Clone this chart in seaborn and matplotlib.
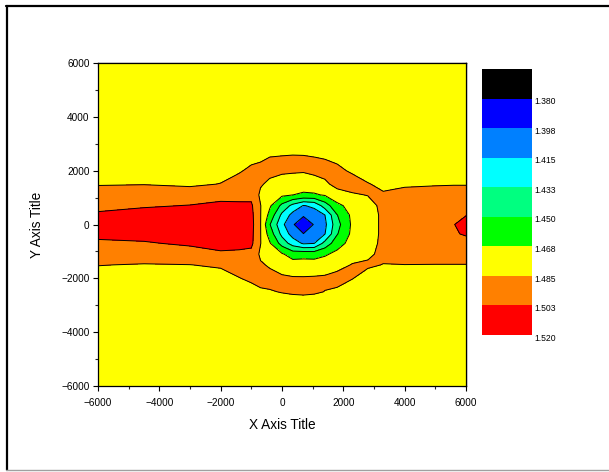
import numpy as np
import matplotlib
matplotlib.use("Agg")
import matplotlib.pyplot as plt
import seaborn as sns
from matplotlib.lines import Line2D
from matplotlib.ticker import MultipleLocator
from matplotlib.transforms import ScaledTranslation

# Grid node positions (rectilinear, denser around the central well)
x_nodes = [-6000, -4500, -3000, -2000, -1400, -1000, -700, -400, 0, 350, 700,
           1050, 1400, 1800, 2300, 2800, 3300, 4000, 5000, 5600, 6000]
y_nodes = [-6000, -3000, -2500, -2000, -1500, -1100, -700, -350, 0, 350, 700,
           1100, 1500, 2000, 2500, 3000, 6000]

# Measured values, one column per x node (bottom to top along y_nodes)
value_columns = [
    [1.476, 1.476, 1.476, 1.478, 1.4855, 1.493, 1.500, 1.506, 1.510, 1.5045, 1.499, 1.492, 1.484, 1.478, 1.476, 1.476, 1.476],
    [1.476, 1.476, 1.476, 1.478, 1.484, 1.494, 1.501, 1.508, 1.511, 1.508, 1.501, 1.494, 1.4845, 1.478, 1.476, 1.476, 1.476],
    [1.476, 1.476, 1.476, 1.478, 1.4848, 1.495, 1.505, 1.510, 1.512, 1.510, 1.503, 1.495, 1.482, 1.477, 1.476, 1.476, 1.476],
    [1.476, 1.476, 1.477, 1.479, 1.487, 1.5005, 1.507, 1.511, 1.513, 1.512, 1.5045, 1.4995, 1.4855, 1.479, 1.477, 1.476, 1.476],
    [1.476, 1.476, 1.477, 1.4845, 1.491, 1.4995, 1.507, 1.510, 1.511, 1.510, 1.5045, 1.499, 1.491, 1.4835, 1.477, 1.476, 1.476],
    [1.476, 1.476, 1.480, 1.4875, 1.490, 1.498, 1.506, 1.507, 1.508, 1.507, 1.505, 1.498, 1.490, 1.488, 1.481, 1.476, 1.476],
    [1.476, 1.476, 1.482, 1.492, 1.487, 1.482, 1.4855, 1.4855, 1.4855, 1.4855, 1.4855, 1.482, 1.4865, 1.492, 1.481, 1.476, 1.476],
    [1.476, 1.476, 1.4838, 1.4905, 1.4831, 1.4761, 1.4692, 1.4598, 1.451, 1.4623, 1.4701, 1.476, 1.482, 1.489, 1.4851, 1.476, 1.476],
    [1.476, 1.476, 1.4858, 1.4877, 1.4778, 1.4693, 1.443, 1.4275, 1.419, 1.4283, 1.4456, 1.4706, 1.4782, 1.4875, 1.486, 1.476, 1.476],
    [1.476, 1.476, 1.4872, 1.4865, 1.4752, 1.4600, 1.4245, 1.4079, 1.400, 1.4092, 1.4271, 1.4676, 1.4765, 1.487, 1.4867, 1.476, 1.476],
    [1.476, 1.476, 1.4879, 1.4865, 1.4743, 1.462, 1.4127, 1.398, 1.382, 1.4003, 1.4141, 1.465, 1.475, 1.4866, 1.4864, 1.476, 1.476],
    [1.476, 1.476, 1.4869, 1.4869, 1.4747, 1.461, 1.4147, 1.4065, 1.399, 1.4076, 1.4181, 1.4655, 1.4775, 1.4888, 1.4851, 1.476, 1.476],
    [1.476, 1.476, 1.4847, 1.4876, 1.4762, 1.4653, 1.4385, 1.4145, 1.411, 1.4148, 1.4408, 1.469, 1.4819, 1.4905, 1.484, 1.476, 1.476],
    [1.476, 1.476, 1.482, 1.491, 1.4795, 1.4718, 1.4606, 1.4489, 1.444, 1.4495, 1.4633, 1.4785, 1.490, 1.4879, 1.482, 1.476, 1.476],
    [1.476, 1.476, 1.476, 1.4855, 1.486, 1.478, 1.474, 1.472, 1.471, 1.472, 1.474, 1.4835, 1.491, 1.483, 1.478, 1.476, 1.476],
    [1.476, 1.476, 1.476, 1.478, 1.4875, 1.482, 1.479, 1.478, 1.478, 1.478, 1.480, 1.4855, 1.486, 1.477, 1.476, 1.476, 1.476],
    [1.476, 1.476, 1.476, 1.477, 1.4845, 1.489, 1.4885, 1.488, 1.488, 1.488, 1.4885, 1.487, 1.481, 1.477, 1.476, 1.476, 1.476],
    [1.476, 1.476, 1.476, 1.478, 1.4848, 1.492, 1.494, 1.495, 1.495, 1.495, 1.494, 1.491, 1.4825, 1.477, 1.476, 1.476, 1.476],
    [1.476, 1.476, 1.476, 1.478, 1.4845, 1.494, 1.498, 1.500, 1.500, 1.4995, 1.497, 1.493, 1.4835, 1.477, 1.476, 1.476, 1.476],
    [1.476, 1.476, 1.476, 1.478, 1.4845, 1.494, 1.499, 1.5015, 1.5022, 1.501, 1.498, 1.4935, 1.484, 1.477, 1.476, 1.476, 1.476],
    [1.476, 1.476, 1.476, 1.478, 1.4845, 1.494, 1.499, 1.5035, 1.506, 1.5022, 1.499, 1.4935, 1.484, 1.477, 1.476, 1.476, 1.476],
]

# Contour levels and their colour-scale labels
levels = [1.380, 1.3975, 1.415, 1.4325, 1.450, 1.4675, 1.485, 1.5025, 1.520]
level_labels = ["1.380", "1.398", "1.415", "1.433", "1.450", "1.468", "1.485", "1.503", "1.520"]
# first colour is for values below the lowest level
band_colors = ["#000000", "#0000FF", "#0080FF", "#00FFFF", "#00FF80",
               "#00FF00", "#FFFF00", "#FF8000", "#FF0000"]

sns.set_theme(style="ticks")
plt.rcParams["font.family"] = ["Liberation Sans", "DejaVu Sans"]
plt.rcParams["axes.linewidth"] = 0.9
plt.rcParams["axes.edgecolor"] = "black"

W, H = 609, 472
fig = plt.figure(figsize=(W / 100, H / 100), dpi=100)
fig.patch.set_facecolor("white")

ax = fig.add_axes([98 / W, 1 - 386 / H, 368 / W, 323 / H])
Z = np.array(value_columns).T
ax.contourf(x_nodes, y_nodes, Z, levels=levels, colors=band_colors, extend="min")
ax.contour(x_nodes, y_nodes, Z, levels=levels, colors="black", linewidths=0.7)

ax.set_xlim(-6000, 6000)
ax.set_ylim(-6000, 6000)
for axis in (ax.xaxis, ax.yaxis):
    axis.set_major_locator(MultipleLocator(2000))
    axis.set_minor_locator(MultipleLocator(1000))
ax.tick_params(axis="both", which="major", direction="out", length=3.6, width=0.8,
               labelsize=7.2, colors="black")
ax.tick_params(axis="y", which="major", pad=2.5)
ax.tick_params(axis="x", which="major", pad=5)
ax.tick_params(axis="both", which="minor", direction="out", length=2, width=0.8)

# inward ticks on the top and right edges
top = ax.secondary_xaxis("top")
right = ax.secondary_yaxis("right")
for sec, axis in ((top, top.xaxis), (right, right.yaxis)):
    axis.set_major_locator(MultipleLocator(2000))
    axis.set_minor_locator(MultipleLocator(1000))
    sec.tick_params(which="major", direction="in", length=3, width=0.8, labelsize=0)
    sec.tick_params(which="minor", direction="in", length=2, width=0.8)
    axis.set_ticklabels([])

ax.set_xlabel("X Axis Title", fontsize=9.8, labelpad=7.5, color="black")
ax.set_ylabel("Y Axis Title", fontsize=9.8, labelpad=12, color="black")

# colour scale: one block per band, lowest values at the top
cax = fig.add_axes([482 / W, 1 - 335 / H, 50 / W, 266 / H])
n_bands = len(band_colors)
cax.bar(np.full(n_bands, 0.5), np.ones(n_bands), bottom=np.arange(n_bands),
        width=1.0, color=band_colors, linewidth=0)
cax.set_xlim(0, 1)
cax.set_ylim(n_bands, 0)
cax.set_yticks(np.arange(1, n_bands + 1))
cax.set_yticklabels(level_labels)
cax.yaxis.tick_right()
cax.set_xticks([])
cax.tick_params(axis="y", length=0, labelsize=6.2, pad=2, colors="black")
shift = ScaledTranslation(0, -1.6 / 72, fig.dpi_scale_trans)
for label in cax.get_yticklabels():
    label.set_transform(label.get_transform() + shift)
for spine in cax.spines.values():
    spine.set_visible(False)

# page frame
fig.add_artist(Line2D([7 / W, 7 / W], [1 - 6 / H, 1 - 470 / H], transform=fig.transFigure,
                      color="black", lw=1.6))
fig.add_artist(Line2D([6 / W, 1], [1 - 6 / H, 1 - 6 / H], transform=fig.transFigure,
                      color="black", lw=1.6))
fig.add_artist(Line2D([6 / W, 1], [1 - 470 / H, 1 - 470 / H], transform=fig.transFigure,
                      color="#a0a0a0", lw=1.0))

fig.savefig("out.png", dpi=100)
